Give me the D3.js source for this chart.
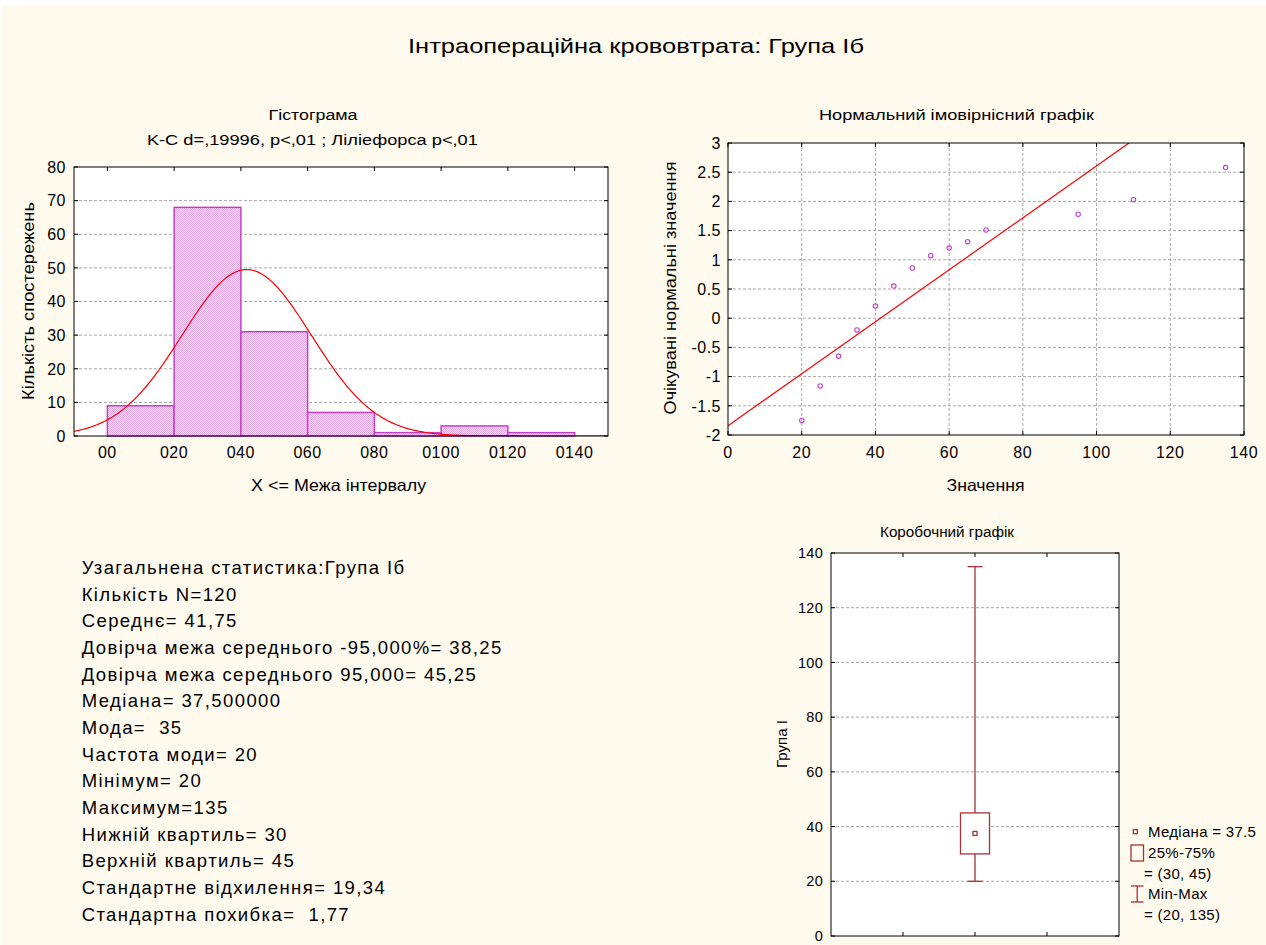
<!DOCTYPE html>
<html>
<head>
<meta charset="utf-8">
<script src="https://cdn.jsdelivr.net/npm/d3@7"></script>
<style>
  html, body { margin: 0; padding: 0; background: #ffffff; }
  svg { display: block; }
  text { font-family: "Liberation Sans", Arial, sans-serif; fill: #000; white-space: pre; }
</style>
</head>
<body>
<svg id="chart" width="1266" height="945"></svg>
<script>
// ---- дані ----
const mainTitle = "Інтраопераційна крововтрата: Група Іб";

const binEdges = [0, 20, 40, 60, 80, 100, 120, 140];
const binLabels = ["00", "020", "040", "060", "080", "0100", "0120", "0140"];
const binCounts = [9, 68, 31, 7, 1, 3, 1];
const histYTicks = [0, 10, 20, 30, 40, 50, 60, 70, 80];
const histTitle = ["Гістограма", "K-C d=,19996, p<,01 ; Ліліефорса p<,01"];

const sampleN = 120;
const sampleMean = 41.75;
const sampleSd = 19.34;
const binWidth = 20;

const probX = [20, 25, 30, 35, 40, 45, 50, 55, 60, 65, 70, 95, 110, 135];
const probY = [-1.75, -1.16, -0.65, -0.2, 0.21, 0.55, 0.86, 1.07, 1.2, 1.31, 1.51, 1.78, 2.03, 2.58];
const probLineX = [0, 108.8];
const probLineY = [-1.84, 3.0];
const probXTicks = [0, 20, 40, 60, 80, 100, 120, 140];
const probYTicks = [-2, -1.5, -1, -0.5, 0, 0.5, 1, 1.5, 2, 2.5, 3];

const boxNames = ["min", "q1", "median", "q3", "max"];
const boxValues = [20, 30, 37.5, 45, 135];
const boxYTicks = [0, 20, 40, 60, 80, 100, 120, 140];
const legendLines = ["Медіана = 37.5", "25%-75%", "= (30, 45)", "Min-Max", "= (20, 135)"];

const summaryLines = [
  "Узагальнена статистика:Група Іб",
  "Кількість N=120",
  "Середнє= 41,75",
  "Довірча межа середнього -95,000%= 38,25",
  "Довірча межа середнього 95,000= 45,25",
  "Медіана= 37,500000",
  "Мода=  35",
  "Частота моди= 20",
  "Мінімум= 20",
  "Максимум=135",
  "Нижній квартиль= 30",
  "Верхній квартиль= 45",
  "Стандартне відхилення= 19,34",
  "Стандартна похибка=  1,77"
];

// ---- полотно ----
const svg = d3.select("#chart");
svg.append("rect").attr("x", 2).attr("y", 5).attr("width", 1264).attr("height", 940).attr("fill", "#fffaee");

const defs = svg.append("defs");
const pat = defs.append("pattern").attr("id", "hatch").attr("patternUnits", "userSpaceOnUse")
  .attr("width", 2).attr("height", 2);
pat.append("rect").attr("width", 2).attr("height", 2).attr("fill", "#fbecfb");
pat.append("rect").attr("width", 1).attr("height", 1).attr("fill", "#e2a2e2");
pat.append("rect").attr("x", 1).attr("y", 1).attr("width", 1).attr("height", 1).attr("fill", "#e2a2e2");

const gridStyle = g => g.attr("stroke", "#a8a8a8").attr("stroke-width", 1).attr("stroke-dasharray", "3,2");

function label(x, y, txt, opts) {
  opts = opts || {};
  const t = svg.append("text").attr("x", x).attr("y", y).text(txt)
    .attr("xml:space", "preserve")
    .attr("font-size", opts.size || 16)
    .attr("text-anchor", opts.anchor || "middle");
  if (opts.len) t.attr("textLength", opts.len).attr("lengthAdjust", "spacingAndGlyphs");
  if (opts.ls) t.attr("letter-spacing", opts.ls);
  if (opts.rotate) t.attr("transform", `rotate(-90,${x},${y})`);
  return t;
}

label(636, 53, mainTitle, { size: 21, len: 456 });

// ---- 1. Гістограма ----
const hx = d3.scaleLinear().domain([-10, 150]).range([74, 608]);
const hy = d3.scaleLinear().domain([0, 80]).range([436, 167]);

svg.append("rect").attr("x", hx(-10)).attr("y", hy(80)).attr("width", hx(150) - hx(-10))
  .attr("height", hy(0) - hy(80)).attr("fill", "#fff");
defs.append("clipPath").attr("id", "clipH").append("rect")
  .attr("x", hx(-10)).attr("y", hy(80)).attr("width", hx(150) - hx(-10)).attr("height", hy(0) - hy(80));

svg.append("g").selectAll("line").data(histYTicks.filter(v => v > 0 && v < 80)).join("line")
  .attr("x1", hx(-10)).attr("x2", hx(150)).attr("y1", d => hy(d)).attr("y2", d => hy(d))
  .call(gridStyle);

svg.append("g").selectAll("rect").data(binCounts).join("rect")
  .attr("x", (d, i) => hx(binEdges[i]))
  .attr("y", d => hy(d))
  .attr("width", (d, i) => hx(binEdges[i + 1]) - hx(binEdges[i]))
  .attr("height", d => hy(0) - hy(d))
  .attr("fill", "url(#hatch)")
  .attr("stroke", "#c43fca").attr("stroke-width", 1.5);

// крива нормального розподілу за середнім та ст. відхиленням
const curveX = d3.range(-10, 150.5, 0.5);
const normCount = x => sampleN * binWidth / (sampleSd * Math.sqrt(2 * Math.PI)) *
  Math.exp(-0.5 * Math.pow((x - sampleMean) / sampleSd, 2));
svg.append("path").datum(curveX)
  .attr("clip-path", "url(#clipH)")
  .attr("d", d3.line().x(d => hx(d)).y(d => hy(normCount(d))))
  .attr("fill", "none").attr("stroke", "#ff0000").attr("stroke-width", 1.2);

svg.append("rect").attr("x", hx(-10)).attr("y", hy(80)).attr("width", hx(150) - hx(-10))
  .attr("height", hy(0) - hy(80)).attr("fill", "none").attr("stroke", "#000").attr("stroke-width", 1);

const hTicks = svg.append("g").attr("stroke", "#000").attr("stroke-width", 1);
histYTicks.forEach(v => {
  hTicks.append("line").attr("x1", hx(-10)).attr("x2", hx(-10) + 4).attr("y1", hy(v)).attr("y2", hy(v));
  hTicks.append("line").attr("x1", hx(150)).attr("x2", hx(150) - 4).attr("y1", hy(v)).attr("y2", hy(v));
  label(66, hy(v) + 5.8, v, { size: 16, anchor: "end", ls: 0.5 });
});
binEdges.forEach((v, i) => {
  hTicks.append("line").attr("x1", hx(v)).attr("x2", hx(v)).attr("y1", hy(80)).attr("y2", hy(80) + 4);
  label(hx(v), 457.5, binLabels[i], { size: 16, ls: 0.6 });
});

label(313, 120, histTitle[0], { size: 15.5, len: 89 });
label(312.4, 145, histTitle[1], { size: 15.5, len: 331 });
label(338.6, 491, "X <= Межа інтервалу", { size: 16.5, len: 175 });
label(34, 301, "Кількість спостережень", { size: 17, len: 198, rotate: true });

// ---- 2. Нормальний імовірнісний графік ----
const nx = d3.scaleLinear().domain([0, 140]).range([728, 1244]);
const ny = d3.scaleLinear().domain([-2, 3]).range([435, 143]);

svg.append("rect").attr("x", nx(0)).attr("y", ny(3)).attr("width", nx(140) - nx(0))
  .attr("height", ny(-2) - ny(3)).attr("fill", "#fff");
defs.append("clipPath").attr("id", "clipN").append("rect")
  .attr("x", nx(0)).attr("y", ny(3)).attr("width", nx(140) - nx(0)).attr("height", ny(-2) - ny(3));

svg.append("g").selectAll("line").data(probXTicks.slice(1, -1)).join("line")
  .attr("x1", d => nx(d)).attr("x2", d => nx(d)).attr("y1", ny(3)).attr("y2", ny(-2))
  .call(gridStyle);
svg.append("g").selectAll("line").data(probYTicks.slice(1, -1)).join("line")
  .attr("x1", nx(0)).attr("x2", nx(140)).attr("y1", d => ny(d)).attr("y2", d => ny(d))
  .call(gridStyle);

svg.append("line").attr("clip-path", "url(#clipN)")
  .attr("x1", nx(probLineX[0])).attr("y1", ny(probLineY[0]))
  .attr("x2", nx(probLineX[1])).attr("y2", ny(probLineY[1]))
  .attr("stroke", "#ff0000").attr("stroke-width", 1.2);

svg.append("g").selectAll("circle").data(probX).join("circle")
  .attr("cx", d => nx(d)).attr("cy", (d, i) => ny(probY[i])).attr("r", 2.2)
  .attr("fill", "none").attr("stroke", "#c43fca").attr("stroke-width", 1.1);

svg.append("rect").attr("x", nx(0)).attr("y", ny(3)).attr("width", nx(140) - nx(0))
  .attr("height", ny(-2) - ny(3)).attr("fill", "none").attr("stroke", "#000").attr("stroke-width", 1);

const nTicks = svg.append("g").attr("stroke", "#000").attr("stroke-width", 1);
probYTicks.forEach(v => {
  nTicks.append("line").attr("x1", nx(0)).attr("x2", nx(0) + 4).attr("y1", ny(v)).attr("y2", ny(v));
  nTicks.append("line").attr("x1", nx(140)).attr("x2", nx(140) - 4).attr("y1", ny(v)).attr("y2", ny(v));
  label(721, ny(v) + 5.8, String(v), { size: 16, anchor: "end", ls: 0.5 });
});
probXTicks.forEach(v => {
  nTicks.append("line").attr("x1", nx(v)).attr("x2", nx(v)).attr("y1", ny(3)).attr("y2", ny(3) + 4);
  nTicks.append("line").attr("x1", nx(v)).attr("x2", nx(v)).attr("y1", ny(-2)).attr("y2", ny(-2) - 4);
  label(nx(v), 457.5, v, { size: 16, ls: 0.6 });
});

label(956.4, 120, "Нормальний імовірнісний графік", { size: 15.5, len: 275 });
label(985.5, 491, "Значення", { size: 16.5, len: 78 });
label(676, 288, "Очікувані нормальні значення", { size: 17, len: 253, rotate: true });

// ---- 3. Коробочний графік ----
const bx = d3.scaleLinear().domain([0, 4]).range([831, 1119]);
const by = d3.scaleLinear().domain([0, 140]).range([936, 553]);
const bv = Object.fromEntries(boxNames.map((n, i) => [n, boxValues[i]]));
const boxColor = "#a83236";
const cx = bx(2);

svg.append("rect").attr("x", bx(0)).attr("y", by(140)).attr("width", bx(4) - bx(0))
  .attr("height", by(0) - by(140)).attr("fill", "#fff");
svg.append("g").selectAll("line").data(boxYTicks.slice(1, -1)).join("line")
  .attr("x1", bx(0)).attr("x2", bx(4)).attr("y1", d => by(d)).attr("y2", d => by(d))
  .call(gridStyle);

const bg = svg.append("g").attr("stroke", boxColor).attr("stroke-width", 1.3).attr("fill", "none");
bg.append("line").attr("x1", cx).attr("x2", cx).attr("y1", by(bv.max)).attr("y2", by(bv.q3));
bg.append("line").attr("x1", cx).attr("x2", cx).attr("y1", by(bv.q1)).attr("y2", by(bv.min));
bg.append("line").attr("x1", cx - 7.5).attr("x2", cx + 7.5).attr("y1", by(bv.max)).attr("y2", by(bv.max));
bg.append("line").attr("x1", cx - 7.5).attr("x2", cx + 7.5).attr("y1", by(bv.min)).attr("y2", by(bv.min));
bg.append("rect").attr("x", cx - 14.5).attr("width", 29)
  .attr("y", by(bv.q3)).attr("height", by(bv.q1) - by(bv.q3)).attr("fill", "#fff");
bg.append("rect").attr("x", cx - 2).attr("y", by(bv.median) - 2).attr("width", 4).attr("height", 4);

svg.append("rect").attr("x", bx(0)).attr("y", by(140)).attr("width", bx(4) - bx(0))
  .attr("height", by(0) - by(140)).attr("fill", "none").attr("stroke", "#000").attr("stroke-width", 1);

const bTicks = svg.append("g").attr("stroke", "#000").attr("stroke-width", 1);
boxYTicks.forEach(v => {
  bTicks.append("line").attr("x1", bx(0)).attr("x2", bx(0) + 4).attr("y1", by(v)).attr("y2", by(v));
  bTicks.append("line").attr("x1", bx(4)).attr("x2", bx(4) - 4).attr("y1", by(v)).attr("y2", by(v));
  label(823, by(v) + 5.2, v, { size: 14.5, anchor: "end", ls: 0.3 });
});
[1, 2, 3].forEach(v => {
  bTicks.append("line").attr("x1", bx(v)).attr("x2", bx(v)).attr("y1", by(140)).attr("y2", by(140) + 4);
  bTicks.append("line").attr("x1", bx(v)).attr("x2", bx(v)).attr("y1", by(0)).attr("y2", by(0) - 4);
});

label(947, 537, "Коробочний графік", { size: 14, len: 134 });
label(787, 744, "Група І", { size: 14.5, len: 48, rotate: true });

// легенда
const lg = svg.append("g").attr("stroke", boxColor).attr("stroke-width", 1.3).attr("fill", "none");
lg.append("rect").attr("x", 1133.3).attr("y", 829.7).attr("width", 4).attr("height", 4);
lg.append("rect").attr("x", 1131).attr("y", 845).attr("width", 12.5).attr("height", 16);
lg.append("line").attr("x1", 1137.2).attr("x2", 1137.2).attr("y1", 886).attr("y2", 902);
lg.append("line").attr("x1", 1131).attr("x2", 1143.5).attr("y1", 886).attr("y2", 886);
lg.append("line").attr("x1", 1131).attr("x2", 1143.5).attr("y1", 902).attr("y2", 902);

const legendX = [1148, 1148, 1144, 1148, 1144];
const legendY = [837, 858, 879, 899, 920];
legendLines.forEach((t, i) => label(legendX[i], legendY[i], t, { size: 15, anchor: "start", ls: 0.3 }));

// ---- 4. Узагальнена статистика ----
summaryLines.forEach((t, i) =>
  label(81.7, 574 + i * 26.67, t, { size: 18.5, anchor: "start", ls: 1.4 }));
</script>
</body>
</html>
